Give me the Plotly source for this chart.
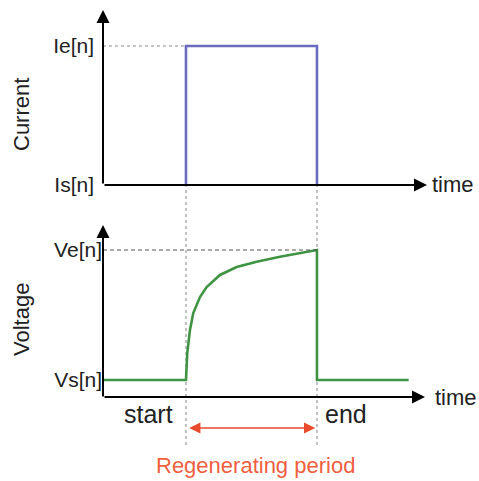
import plotly.graph_objects as go

# ---------------- data ----------------
t_start = 1.9
t_end = 4.9

current_t = [t_start, t_start, t_end, t_end]
current_v = [0, 1, 1, 0]                      # Is[n] -> Ie[n] -> Is[n]

voltage_t = [0.0, 1.9, 1.93, 1.992, 2.067, 2.221, 2.374, 2.679, 3.061,
             3.519, 4.053, 4.511, 4.9, 4.9, 7.0]
voltage_v = [0.0, 0.0, 0.208, 0.385, 0.515, 0.638, 0.715, 0.808, 0.869,
             0.91, 0.948, 0.979, 1.0, 0.0, 0.0]

current_ticks = [0, 1]
current_labels = ["Is[n]", "Ie[n]"]
voltage_ticks = [0, 1]
voltage_labels = ["Vs[n]", "Ve[n]"]

# ---------------- layout geometry ----------------
W, H = 479, 481
PX = 43.667
x_dom = [103 / W, 1.0]
x_rng = [0, (W - 103) / PX]

top_dom = [1 - 185 / H, 1 - 5 / H]
top_rng = [0, 180 / 139]
bot_dom = [1 - 479 / H, 1 - 215 / H]
bot_rng = [(380 - 479) / 130, 165 / 130]

def to_paper(v, dom, rng):
    return dom[0] + (v - rng[0]) / (rng[1] - rng[0]) * (dom[1] - dom[0])

FONT = "Liberation Sans, Arial, sans-serif"
TXT = "#222222"
BLUE = "#6b6bc0"
GREEN = "#3f9443"
RED = "#ea4a2c"
ORANGE = "#f06040"

fig = go.Figure()

fig.add_trace(go.Scatter(x=current_t, y=current_v, xaxis="x", yaxis="y2",
                         mode="lines", line=dict(color=BLUE, width=2.6),
                         hoverinfo="skip", showlegend=False))
fig.add_trace(go.Scatter(x=voltage_t, y=voltage_v, xaxis="x", yaxis="y",
                         mode="lines", line=dict(color=GREEN, width=2.6),
                         hoverinfo="skip", showlegend=False))

shapes = []
# vertical guides through both panels
y_top_p = to_paper(1, top_dom, top_rng)
y_bot_p = to_paper(-65 / 130, bot_dom, bot_rng)
for tt in (t_start, t_end):
    shapes.append(dict(type="line", xref="x", yref="paper", x0=tt, x1=tt,
                       y0=y_bot_p, y1=y_top_p, layer="below",
                       line=dict(color="#a8a8a8", width=1.4, dash="3px,3px")))
# horizontal guides
shapes.append(dict(type="line", xref="x", yref="y2", x0=0, x1=t_start, y0=1, y1=1,
                   line=dict(color="#b0b0b0", width=1.6, dash="3px,3px")))
shapes.append(dict(type="line", xref="x", yref="y", x0=0, x1=t_end, y0=1, y1=1,
                   line=dict(color="#555555", width=1.2, dash="4px,3px")))

ann = []
def arrow(x, y, ax, ay, yref, color="black", width=2, both=False, size=1.3):
    d = dict(x=x, y=y, ax=ax, ay=ay, xref="x", yref=yref, axref="x", ayref=yref,
             text="", showarrow=True, arrowhead=2, arrowsize=size,
             arrowwidth=width, arrowcolor=color)
    if both:
        d.update(arrowside="end+start", startarrowhead=2, startarrowsize=size)
    return d

# axes with arrow tips
ann.append(arrow(0, 175 / 139, 0, 0, "y2"))
ann.append(arrow((427 - 103) / PX, 0, 0, 0, "y2"))
y_base = -17 / 130
ann.append(arrow(0, 155 / 130, 0, y_base - 1 / 130, "y"))
ann.append(arrow((425 - 103) / PX, y_base, 0, y_base, "y"))
# regenerating period
ann.append(arrow(t_end - 0.04, -48 / 130, t_start + 0.04, -48 / 130, "y",
                 color=RED, width=1.6, both=True, size=1.4))

def label(text, x, y, yref, size, color=TXT, xanchor="center", angle=0):
    return dict(text=text, x=x, y=y, xref="x", yref=yref, showarrow=False,
                xanchor=xanchor, yanchor="middle", textangle=angle,
                font=dict(family=FONT, size=size, color=color))

ann.append(label("time", (430 - 103) / PX, 0, "y2", 22, xanchor="left"))
ann.append(label("time", (433 - 103) / PX, y_base, "y", 22, xanchor="left"))
ann.append(label("start", (148 - 103) / PX, -34 / 130, "y", 25))
ann.append(label("end", (346 - 103) / PX, -34 / 130, "y", 25))
ann.append(label("Regenerating period", (255 - 103) / PX, -85 / 130, "y", 22,
                 color=ORANGE))
ann.append(dict(text="Current", x=21 / W, y=1 - 115 / H, xref="paper", yref="paper",
                showarrow=False, textangle=-90, xanchor="center", yanchor="middle",
                font=dict(family=FONT, size=22, color=TXT)))
ann.append(dict(text="Voltage", x=21 / W, y=1 - 320 / H, xref="paper", yref="paper",
                showarrow=False, textangle=-90, xanchor="center", yanchor="middle",
                font=dict(family=FONT, size=22, color=TXT)))

fig.update_layout(
    width=W, height=H, autosize=False,
    margin=dict(l=0, r=0, t=0, b=0, pad=0, autoexpand=False),
    paper_bgcolor="white", plot_bgcolor="rgba(0,0,0,0)",
    showlegend=False,
    xaxis=dict(domain=x_dom, range=x_rng, showgrid=False, zeroline=False,
               showline=False, showticklabels=False, ticks="", anchor="y",
               fixedrange=True, automargin=False),
    yaxis=dict(domain=bot_dom, range=bot_rng, showgrid=False, zeroline=False,
               showline=False, tickvals=voltage_ticks, ticktext=voltage_labels,
               ticks="", ticklabelstandoff=0, anchor="x", automargin=False,
               tickfont=dict(family=FONT, size=21, color=TXT), fixedrange=True),
    yaxis2=dict(domain=top_dom, range=top_rng, showgrid=False, zeroline=False,
                showline=False, tickvals=current_ticks, ticktext=current_labels,
                ticks="", ticklabelstandoff=8, anchor="x", automargin=False,
                tickfont=dict(family=FONT, size=21, color=TXT), fixedrange=True),
    shapes=shapes,
    annotations=ann,
)

fig.write_html("out.html", config={"displayModeBar": False},
               post_script="document.body.style.margin='0px';"
                           "document.body.style.overflow='hidden';")
